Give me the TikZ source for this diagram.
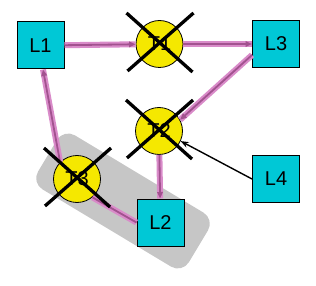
\documentclass[tikz,border=0pt]{standalone}
\usepackage{fontspec}
\setmainfont{Liberation Sans}
\usetikzlibrary{arrows.meta}
\definecolor{linkCyan}{HTML}{00C8D6}
\definecolor{linkYellow}{HTML}{F5E800}
\definecolor{linkGray}{HTML}{C6C6C6}
\definecolor{flowPink}{HTML}{D98BC9}
\definecolor{flowCore}{HTML}{A2528F}
\tikzset{
  every picture/.style={font=\fontsize{20}{23}\selectfont},
  link box/.style={draw=black, line width=1pt, fill=linkCyan,
    minimum width=47pt, minimum height=47pt, inner sep=0pt},
  link node/.style={circle, draw=black, line width=0.8pt, fill=linkYellow,
    minimum size=47pt, inner sep=0pt},
  link group/.style={fill=linkGray, rounded corners=13pt, rotate=-31,
    minimum width=176pt, minimum height=63pt},
  flow arrow/.style={draw=flowCore, line width=1.8pt,
    -{Triangle[length=6.5pt,width=5.5pt]},
    preaction={draw=flowPink, line width=6pt, -}},
  flow line/.style={draw=flowCore, line width=1.8pt,
    preaction={draw=flowPink, line width=6pt}},
  ctrl arrow/.style={-{Stealth[length=8pt,width=6pt]}, draw=black, line width=1.4pt},
  cross line/.style={draw=black, line width=3.3pt}
}
\begin{document}
\begin{tikzpicture}[x=1pt,y=-1pt]
  \useasboundingbox (0,0) rectangle (316,286);
  \node[link group] (grp) at (123,201) {};
  % links and nodes
  \node[link box] (l1) at (40.5,45.5) {L1};
  \node[link box] (l3) at (276,44) {L3};
  \node[link box] (l2) at (160.5,222.5) {L2};
  \node[link box] (l4) at (276,179) {L4};
  \node[link node] (t1) at (159.5,44) {T1};
  \node[link node] (t2) at (159,131) {T2};
  \node[link node] (t3) at (77,179) {T3};
  % flows
  \draw[flow arrow] (l1) -- (t1);
  \draw[flow arrow] (t1) -- (l3);
  \draw[flow arrow] ([yshift=-11pt]l3.west) -- (t2.28);
  \draw[flow arrow] (t2) -- (l2);
  \draw[flow arrow] (t3.135) -- ([xshift=2.5pt]l1.south);
  \draw[flow line] (t3.-50) -- (l2.west);
  \draw[ctrl arrow] (l4.west) -- (t2.-25);
  % crossed out
  \foreach \t in {t1,t2,t3}{
    \draw[cross line] ([shift={(-33,-31)}]\t.center) -- ([shift={(33,28)}]\t.center);
    \draw[cross line] ([shift={(34,-31)}]\t.center) -- ([shift={(-32,27)}]\t.center);
  }
\end{tikzpicture}
\end{document}
